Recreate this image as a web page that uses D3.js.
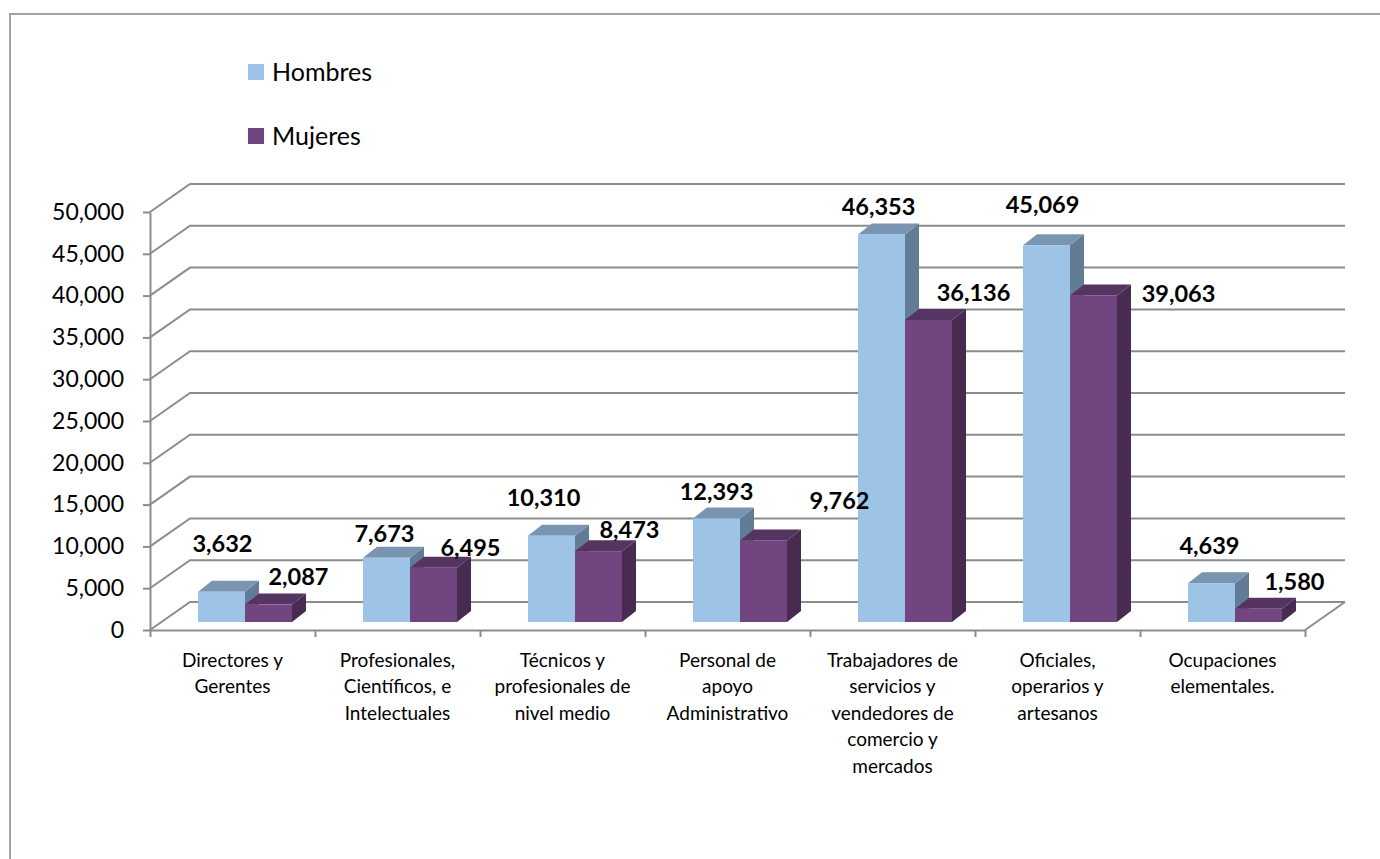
<!DOCTYPE html>
<html>
<head>
<meta charset="utf-8">
<script src="https://cdn.jsdelivr.net/npm/d3@7"></script>
<style>
  body { margin: 0; background: #fff; }
  svg { display: block; font-family: Lato, "Open Sans", sans-serif; }
</style>
</head>
<body>
<div id="chart"></div>
<script>
  // categories (label lines as in the original)
  const categories = [
    ["Directores y", "Gerentes"],
    ["Profesionales,", "Científicos, e", "Intelectuales"],
    ["Técnicos y", "profesionales de", "nivel medio"],
    ["Personal de", "apoyo", "Administrativo"],
    ["Trabajadores de", "servicios y", "vendedores de", "comercio y", "mercados"],
    ["Oficiales,", "operarios y", "artesanos"],
    ["Ocupaciones", "elementales."],
  ];
  const seriesNames = ["Hombres", "Mujeres"];
  const hombres = [3632, 7673, 10310, 12393, 46353, 45069, 4639];
  const mujeres = [2087, 6495, 8473, 9762, 36136, 39063, 1580];
  const yTicks = [0, 5000, 10000, 15000, 20000, 25000, 30000, 35000, 40000, 45000, 50000];

  // label nudges (Excel moves some labels around), [dx, dy]
  const nudgeHombres = [[1, -18], [-2, 6], [-8, -8], [0, 3], [-3, 2], [-4, -10], [-2, -7]];
  const nudgeMujeres = [[-5, -3], [2, 5], [-4, 4], [41, -15], [10, -2], [50, 23], [1, -2]];

  const colors = {
    Hombres: { front: "#9dc3e6", top: "#7a95b2", side: "#637c96" },
    Mujeres: { front: "#704580", top: "#553461", side: "#472b51" },
  };

  const W = 1380;
  const H = 859;
  const plot = { left: 150, right: 1305, top: 212, bottom: 630 };
  const depth = { dx: 40, dy: -28 }; // wall / floor depth
  const barFront = { dx: 14, dy: -8 }; // bar front face inside the floor
  const barDepth = { dx: 14, dy: -11 };

  const svg = d3
    .select("#chart")
    .append("svg")
    .attr("width", W)
    .attr("height", H);

  // chart area border
  svg
    .append("rect")
    .attr("x", 10)
    .attr("y", 14)
    .attr("width", W + 20)
    .attr("height", H + 20)
    .style("fill", "none")
    .style("stroke", "#a3a3a3")
    .style("stroke-width", 2);

  const y = d3
    .scaleLinear()
    .domain([0, 50000])
    .range([plot.bottom, plot.top]);

  const x0 = d3
    .scaleBand()
    .domain(d3.range(categories.length))
    .range([plot.left, plot.right]);

  const x1 = d3.scaleBand().domain(seriesNames).range([34, 128]);

  // gridlines on the side wall and back wall
  svg
    .append("g")
    .selectAll("path")
    .data(yTicks)
    .join("path")
    .attr(
      "d",
      (d) =>
        `M${plot.left},${y(d)}L${plot.left + depth.dx},${y(d) + depth.dy}` +
        `L${plot.right + depth.dx},${y(d) + depth.dy}`
    )
    .style("fill", "none")
    .style("stroke", "#8c8c8c")
    .style("stroke-width", 2);

  // floor right edge
  svg
    .append("path")
    .attr(
      "d",
      `M${plot.right},${plot.bottom}L${plot.right + depth.dx},${plot.bottom + depth.dy}`
    )
    .style("stroke", "#8c8c8c")
    .style("stroke-width", 2);

  // y axis
  const yAxis = svg
    .append("g")
    .attr("transform", `translate(${plot.left},0)`)
    .call(
      d3
        .axisLeft(y)
        .tickValues(yTicks)
        .tickFormat(d3.format(","))
        .tickSize(7)
        .tickSizeOuter(0)
    );
  yAxis.selectAll("path, line").style("stroke", "#8c8c8c").style("stroke-width", 2);
  yAxis
    .selectAll("text")
    .attr("x", -26)
    .style("font-family", "Lato")
    .style("font-size", "23px")
    .style("fill", "#000");

  // x axis: ticks at category boundaries
  const xb = d3
    .scaleLinear()
    .domain([0, categories.length])
    .range([plot.left, plot.right]);
  const xAxis = svg
    .append("g")
    .attr("transform", `translate(0,${plot.bottom})`)
    .call(d3.axisBottom(xb).ticks(categories.length).tickFormat("").tickSize(7).tickSizeOuter(0));
  xAxis.selectAll("path, line").style("stroke", "#8c8c8c").style("stroke-width", 2);

  // category labels
  const catLabels = svg
    .append("g")
    .selectAll("text")
    .data(categories)
    .join("text")
    .attr("text-anchor", "middle")
    .style("font-size", "19px")
    .style("fill", "#000");
  catLabels
    .selectAll("tspan")
    .data((d, i) => d.map((line) => ({ line, i })))
    .join("tspan")
    .attr("x", (d) => x0(d.i) + x0.bandwidth() / 2)
    .attr("y", (d, j) => 660 + j * 26.5)
    .attr("dy", "0.35em")
    .text((d) => d.line);

  // bars as prisms
  const bars = [];
  categories.forEach((c, i) => {
    bars.push({ series: "Hombres", i, value: hombres[i], nudge: nudgeHombres[i] });
    bars.push({ series: "Mujeres", i, value: mujeres[i], nudge: nudgeMujeres[i] });
  });
  bars.forEach((b) => {
    b.x = x0(b.i) + barFront.dx + x1(b.series);
    b.w = x1.bandwidth();
    b.yTop = y(b.value) + barFront.dy;
    b.yBot = y(0) + barFront.dy;
  });

  const barG = svg
    .append("g")
    .selectAll("g")
    .data(bars)
    .join("g");

  barG
    .append("path")
    .attr(
      "d",
      (b) =>
        `M${b.x + b.w},${b.yTop}L${b.x + b.w + barDepth.dx},${b.yTop + barDepth.dy}` +
        `L${b.x + b.w + barDepth.dx},${b.yBot + barDepth.dy}L${b.x + b.w},${b.yBot}Z`
    )
    .style("fill", (b) => colors[b.series].side);

  barG
    .append("path")
    .attr(
      "d",
      (b) =>
        `M${b.x},${b.yTop}L${b.x + barDepth.dx},${b.yTop + barDepth.dy}` +
        `L${b.x + b.w + barDepth.dx},${b.yTop + barDepth.dy}L${b.x + b.w},${b.yTop}Z`
    )
    .style("fill", (b) => colors[b.series].top);

  barG
    .append("rect")
    .attr("x", (b) => b.x)
    .attr("y", (b) => b.yTop)
    .attr("width", (b) => b.w)
    .attr("height", (b) => b.yBot - b.yTop)
    .style("fill", (b) => colors[b.series].front);

  // value labels
  svg
    .append("g")
    .selectAll("text")
    .data(bars)
    .join("text")
    .attr("text-anchor", "middle")
    .attr("dy", "0.35em")
    .attr(
      "x",
      (b) => b.x + b.w / 2 + (b.series === "Mujeres" ? 35 : 0) + b.nudge[0]
    )
    .attr("y", (b) => b.yTop - (b.series === "Mujeres" ? 25 : 30) + b.nudge[1])
    .style("font-size", "23.5px")
    .style("font-weight", "bold")
    .style("fill", "#000")
    .text((b) => d3.format(",")(b.value));

  // legend
  const legend = svg
    .append("g")
    .selectAll("g")
    .data(seriesNames)
    .join("g")
    .attr("transform", (d, i) => `translate(248,${64 + i * 64})`);
  legend
    .append("rect")
    .attr("width", 16)
    .attr("height", 16)
    .style("fill", (d) => colors[d].front);
  legend
    .append("text")
    .attr("x", 24)
    .attr("y", 8)
    .attr("dy", "0.35em")
    .style("font-size", "25px")
    .style("fill", "#000")
    .text((d) => d);
</script>
</body>
</html>
